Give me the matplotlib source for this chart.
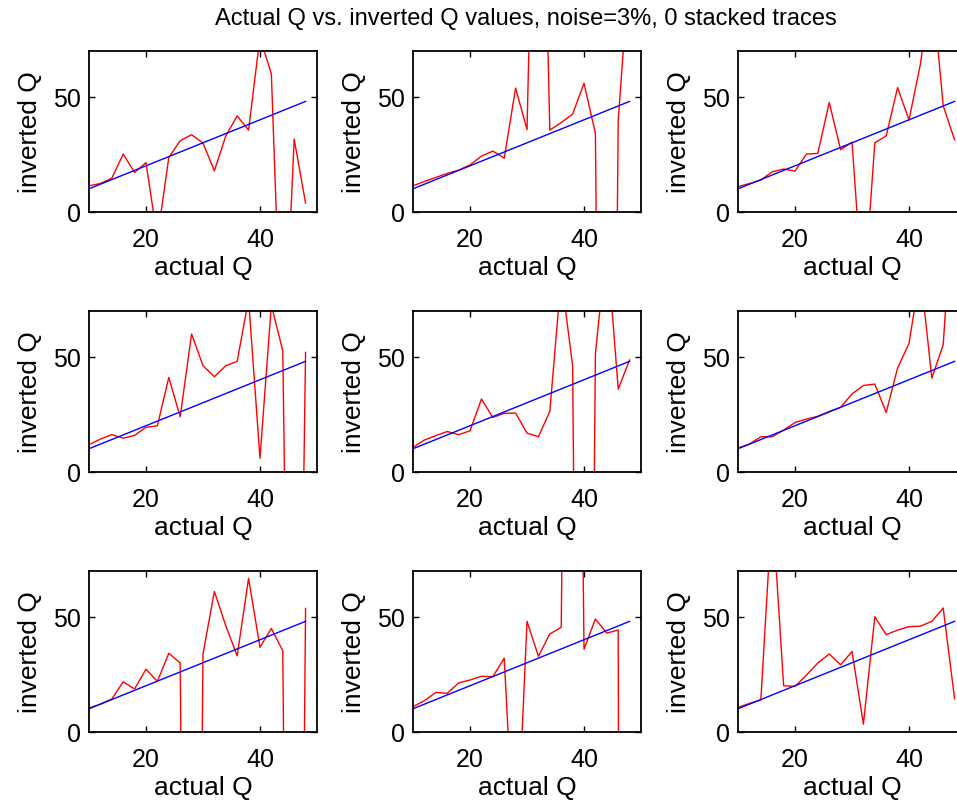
import matplotlib
matplotlib.use('Agg')
import matplotlib.pyplot as plt

plt.rcParams['font.family'] = ['Liberation Sans', 'DejaVu Sans']

# --------------------
# Data
# --------------------
actual_q = [10, 12, 14, 16, 18, 20, 22, 24, 26, 28, 30, 32, 34, 36, 38, 40, 42, 44, 46, 48]

inv_1 = [11.3, 12.3, 14.6, 25.1, 17.1, 21.4, -11.7, 23.6, 30.9, 33.5,
         29.9, 17.8, 33.0, 41.7, 35.5, 76, 59.9, -80, 31.6, 3.8]
inv_2 = [11.3, 13.2, 14.9, 16.7, 18.1, 20.4, 24.2, 26.4, 23.3, 53.8,
         35.7, 250, 35.5, 38.8, 42.5, 55.9, 34.1, -500, 39.6, 108]
inv_3 = [10.9, 12.3, 13.8, 17.4, 18.6, 17.7, 25.1, 25.4, 47.5, 27.0,
         30.3, -40, 30.0, 33.0, 54.0, 39.9, 64.2, 100, 46.1, 31.3]
inv_4 = [11.7, 14.2, 16.1, 14.6, 15.8, 19.3, 20.0, 41.0, 23.9, 59.9,
         46.1, 41.3, 46.1, 48.0, 75, 5.9, 72.5, 52.6, -300, 51.9]
inv_5 = [10.6, 13.8, 15.7, 17.5, 16.1, 17.8, 31.6, 23.6, 25.4, 25.5,
         16.8, 15.2, 26.2, 85, 46.1, -500, 51.2, 100, 35.9, 48.6]
inv_6 = [10.3, 12.0, 15.2, 15.2, 18.1, 21.4, 22.9, 24.1, 26.2, 28.0,
         33.8, 37.5, 38.1, 25.8, 45.1, 55.8, 87, 40.7, 55.2, 130]
inv_7 = [10.3, 12.0, 14.2, 21.7, 18.6, 27.2, 21.9, 34.1, 29.9, -500,
         33.8, 61.0, 46.1, 33.0, 66.7, 36.7, 44.9, 35.2, -500, 53.6]
inv_8 = [10.9, 13.5, 17.1, 16.7, 21.2, 22.5, 24.1, 23.9, 32.0, -64,
         48.0, 32.8, 42.5, 45.4, 500, 35.9, 49.0, 42.9, 44.2, -2000]
inv_9 = [10.6, 12.3, 13.8, 98, 20.0, 19.7, 24.6, 29.9, 33.8, 29.1,
         34.9, 3.3, 50.0, 42.2, 44.2, 45.7, 45.9, 48.0, 53.8, 14.3]

inverted = [inv_1, inv_2, inv_3, inv_4, inv_5, inv_6, inv_7, inv_8, inv_9]

title_text = 'Actual Q vs. inverted Q values, noise=3%, 0 stacked traces'

# --------------------
# Figure and axes layout (3x3, right column runs off the edge)
# --------------------
fig = plt.figure(figsize=(9.57, 8.03), dpi=100)

col_left = [0.0930, 0.4316, 0.7712]
row_bottom = [0.735, 0.4113, 0.0875]
ax_w, ax_h = 0.2382, 0.2005

axes = []
for r in range(3):
    for c in range(3):
        ax = fig.add_axes([col_left[c], row_bottom[r], ax_w, ax_h])
        axes.append(ax)

for ax, vals in zip(axes, inverted):
    ax.plot(actual_q, vals, color='red', linewidth=1.0)
    ax.plot(actual_q, actual_q, color='blue', linewidth=1.0)
    ax.set_xlim(10, 50)
    ax.set_ylim(0, 70)
    ax.set_xticks([20, 40])
    ax.set_yticks([0, 50])
    ax.tick_params(direction='in', top=True, right=True, length=4, width=1,
                   labelsize=18)
    ax.tick_params(axis='x', pad=11)
    ax.tick_params(axis='y', pad=6)
    for s in ax.spines.values():
        s.set_linewidth(1.3)
    ax.set_xlabel('actual Q', fontsize=19, labelpad=3)
    ax.set_ylabel('inverted Q', fontsize=19, labelpad=8)

# Title centred over the middle column
fig.text(0.5496, 1 - 25 / 803, title_text, fontsize=17,
         ha='center', va='baseline')

plt.savefig('out.png', dpi=100)
